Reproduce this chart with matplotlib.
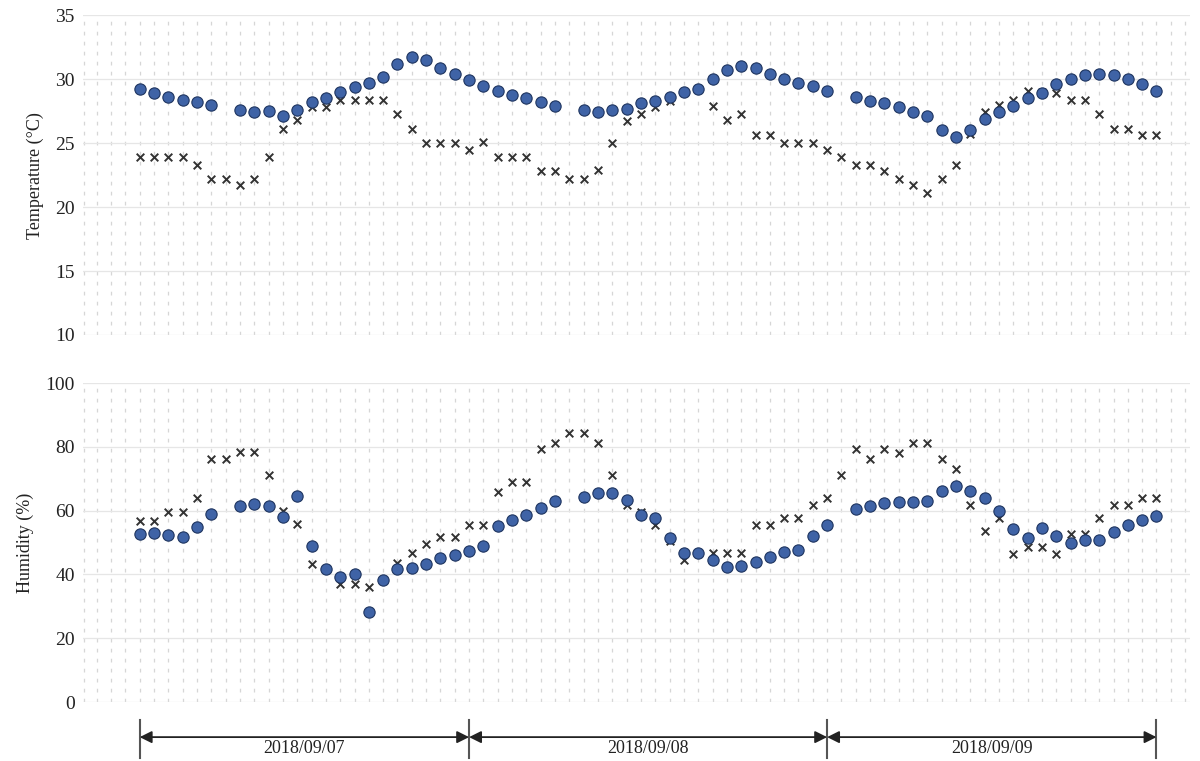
import numpy as np
import matplotlib
matplotlib.use("Agg")
import matplotlib.pyplot as plt

nan = np.nan
# Temperature (°C): circles and crosses, one value per time step
temp_circle = [29.2, 28.9, 28.6, 28.4, 28.2, 28.0, nan, 27.6, 27.4, 27.5, 27.1, 27.6,
               28.2, 28.5, 29.0, 29.4, 29.7, 30.2, 31.2, 31.7, 31.5, 30.9, 30.4, 29.9,
               29.5, 29.1, 28.8, 28.5, 28.2, 27.9, nan, 27.6, 27.4, 27.6, 27.7, 28.1,
               28.3, 28.6, 29.0, 29.2, 30.0, 30.7, 31.0, 30.9, 30.4, 30.0, 29.7, 29.5,
               29.1, nan, 28.6, 28.3, 28.1, 27.8, 27.4, 27.1, 26.0, 25.5, 26.0, 26.9,
               27.4, 27.9, 28.5, 28.9, 29.6, 30.0, 30.3, 30.4, 30.3, 30.0, 29.6, 29.1]
temp_cross = [23.9, 23.9, 23.9, 23.9, 23.3, 22.2, 22.2, 21.7, 22.2, 23.9, 26.1, 26.8,
              27.8, 27.8, 28.4, 28.4, 28.4, 28.4, 27.3, 26.1, 25.0, 25.0, 25.0, 24.5,
              25.1, 23.9, 23.9, 23.9, 22.8, 22.8, 22.2, 22.2, 22.9, 25.0, 26.7, 27.3,
              27.8, 28.3, 29.0, 29.2, 27.9, 26.8, 27.3, 25.6, 25.6, 25.0, 25.0, 25.0,
              24.5, 23.9, 23.3, 23.3, 22.8, 22.2, 21.7, 21.1, 22.2, 23.3, 25.7, 27.4,
              28.0, 28.4, 29.1, 29.0, 28.9, 28.4, 28.4, 27.3, 26.1, 26.1, 25.6, 25.6]
# Humidity (%)
hum_circle = [52.7, 52.9, 52.4, 51.8, 55.0, 58.9, nan, 61.4, 62.0, 61.4, 58.1, 64.6,
              48.9, 41.6, 39.3, 40.1, 28.3, 38.2, 41.6, 41.9, 43.3, 45.0, 46.1, 47.3,
              49.0, 55.2, 57.1, 58.6, 60.9, 63.0, nan, 64.2, 65.4, 65.4, 63.3, 58.6,
              57.6, 51.3, 46.8, 46.8, 44.5, 42.2, 42.6, 43.9, 45.5, 47.1, 47.8, 52.0,
              55.5, nan, 60.4, 61.4, 62.5, 62.8, 62.8, 63.1, 66.2, 67.7, 66.2, 63.8,
              60.0, 54.3, 51.3, 54.6, 52.0, 49.7, 50.9, 50.8, 53.4, 55.5, 57.1, 58.4]
hum_cross = [56.8, 56.8, 59.7, 59.7, 63.8, 76.1, 76.1, 78.3, 78.3, 71.2, 60.0, 55.8,
             43.3, 41.6, 37.0, 37.0, 36.2, 38.2, 43.7, 46.6, 49.5, 51.6, 51.6, 55.5,
             55.5, 65.9, 69.0, 69.0, 79.2, 81.3, 84.2, 84.2, 81.3, 71.2, 61.8, 59.7,
             55.5, 50.6, 44.5, 46.8, 46.6, 46.6, 46.6, 55.5, 55.5, 57.6, 57.6, 61.8,
             63.8, 71.2, 79.2, 76.1, 79.2, 78.2, 81.3, 81.3, 76.1, 73.0, 61.8, 53.7,
             57.6, 46.4, 48.5, 48.5, 46.4, 52.7, 52.7, 57.6, 61.8, 61.8, 63.8, 63.8]

day_labels = ["2018/09/07", "2018/09/08", "2018/09/09"]
day_bounds = [0, 23, 48, 71]

temp_ticks = [10, 15, 20, 25, 30, 35]
hum_ticks = [0, 20, 40, 60, 80, 100]

x = np.arange(len(temp_cross))

plt.rcParams['font.family'] = ['Liberation Serif', 'DejaVu Serif']

fig = plt.figure(figsize=(12, 7.61), dpi=100)
ax1 = fig.add_axes([83 / 1200, 0.5598, 1107 / 1200, 0.4202])
ax2 = fig.add_axes([83 / 1200, 0.0775, 1107 / 1200, 0.4192])

blue = '#3f63a6'
edge = '#1f3560'

def style(ax, ticks, ylabel):
    ax.set_xlim(-3.96, 73.34)
    ax.set_ylim(ticks[0], ticks[-1])
    ax.set_yticks(ticks)
    ax.set_xticks(np.arange(-3, 74), minor=True)
    ax.set_xticks([])
    for s in ax.spines.values():
        s.set_visible(False)
    ax.tick_params(axis='both', which='both', length=0)
    ax.tick_params(axis='y', labelsize=14, pad=6, colors='#222222')
    ax.grid(True, axis='y', which='major', color='#e6e6e6', linewidth=0.9)
    ax.grid(True, axis='x', which='minor', color='#d6d6d6', linewidth=0.9,
            linestyle=(0, (3, 5)))
    ax.set_ylabel(ylabel, fontsize=13, color='#222222', labelpad=8)
    ax.set_axisbelow(True)

style(ax1, temp_ticks, 'Temperature (°C)')
style(ax2, hum_ticks, 'Humidity (%)')

for ax, circ, cross in [(ax1, temp_circle, temp_cross), (ax2, hum_circle, hum_cross)]:
    ax.axvline(-3.9, color='#d6d6d6', lw=0.9, ls=(0, (3, 5)), zorder=0)
    ax.scatter(x, cross, marker='x', s=30, color='#333333', linewidths=1.4, zorder=3)
    ax.scatter(x, circ, marker='o', s=66, color=blue, edgecolors=edge, linewidths=0.8, zorder=4)

# Day ranges with double-headed arrows below the lower panel
trans = ax2.get_xaxis_transform()
for i, lab in enumerate(day_labels):
    a, b = day_bounds[i], day_bounds[i + 1]
    ax2.annotate('', xy=(b, -0.11), xytext=(a, -0.11), xycoords=trans, textcoords=trans,
                 arrowprops=dict(arrowstyle='<|-|>', color='#222222', lw=1.3,
                                 mutation_scale=18, shrinkA=0, shrinkB=0),
                 annotation_clip=False)
    ax2.text((a + b) / 2, -0.145, lab, transform=trans, ha='center', va='center',
             fontsize=13, color='#222222', clip_on=False)
for bnd in day_bounds:
    ax2.plot([bnd, bnd], [-0.055, -0.175], transform=trans, color='#555555', lw=1.5,
             clip_on=False)

fig.savefig('out.png', dpi=100)
